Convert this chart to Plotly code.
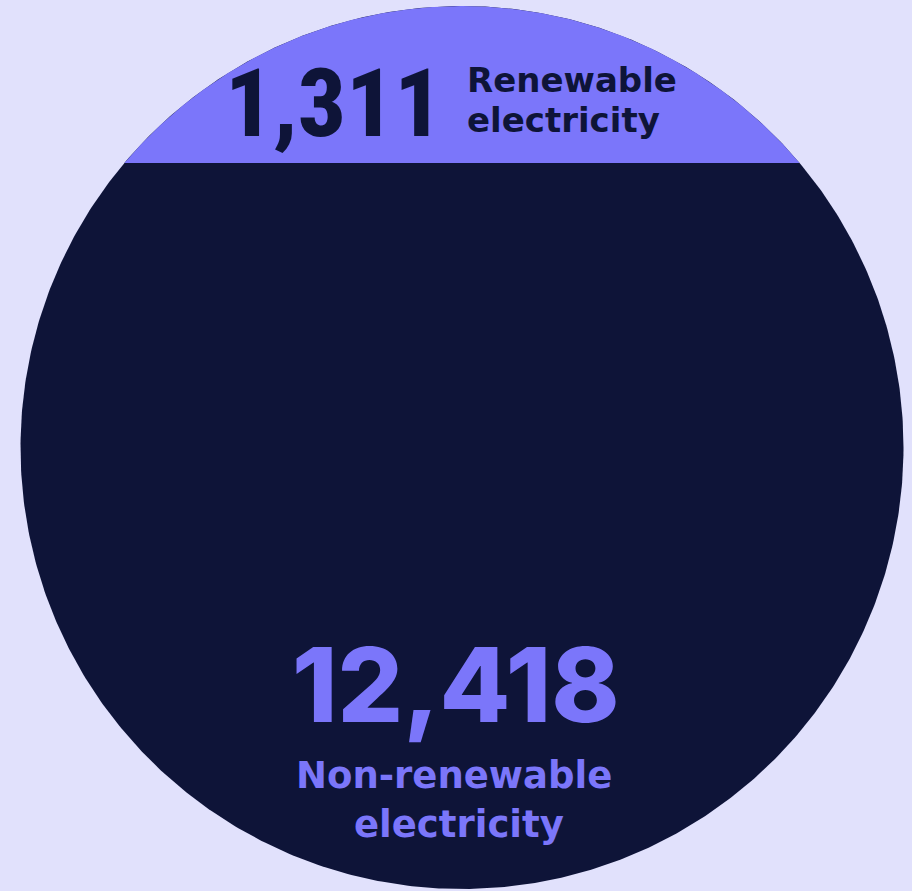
import numpy as np
import plotly.graph_objects as go

# ---- data ----
categories = ["Renewable electricity", "Non-renewable electricity"]
values = [1311, 12418]
value_labels = [f"{v:,}" for v in values]
label_lines = [c.split(" ") for c in categories]

# ---- style ----
BG = "#E1E1FC"
LIGHT = "#7B76FA"
DARK = "#0E1438"
W, H = 912, 891
CX, CY, R = 462.0, 447.5, 441.5        # circle centre / radius in pixels
BAND_LEVEL = 0.6444                     # top of dark fill, in radius units (design level)

# axes in radius units, centre at (0, 0)
x_range = [-CX / R, (W - CX) / R]
y_range = [-(H - CY) / R, CY / R]

t = np.linspace(0, 2 * np.pi, 721)
circle_x, circle_y = np.cos(t), np.sin(t)

a0 = np.arcsin(BAND_LEVEL)
ta = np.linspace(a0, np.pi - a0, 400)
seg_x = np.concatenate([np.cos(ta), [np.cos(a0)]])
seg_y = np.concatenate([np.sin(ta), [BAND_LEVEL]])

fig = go.Figure()
fig.add_trace(go.Scatter(x=circle_x, y=circle_y, mode="lines", fill="toself",
                         fillcolor=DARK, line=dict(width=0, color=DARK),
                         name=categories[1], hoverinfo="skip"))
fig.add_trace(go.Scatter(x=seg_x, y=seg_y, mode="lines", fill="toself",
                         fillcolor=LIGHT, line=dict(width=0, color=LIGHT),
                         name=categories[0], hoverinfo="skip"))


def px(x):
    return x / W


def py(y):
    return 1 - y / H


num_top_font = "Roboto Condensed, Liberation Sans Narrow, sans-serif"
num_bot_font = "Inter, Roboto, sans-serif"
label_font = "DejaVu Sans, Verdana, sans-serif"

annotations = [
    dict(text=value_labels[0], x=px(445), y=py(103), xanchor="right", yanchor="middle",
         font=dict(family=num_top_font, size=95, color=DARK, weight=800)),
    dict(text=label_lines[0][0], x=px(465), y=py(80), xanchor="left", yanchor="middle",
         font=dict(family=label_font, size=34, color=DARK, weight=700)),
    dict(text=label_lines[0][1], x=px(465), y=py(120), xanchor="left", yanchor="middle",
         font=dict(family=label_font, size=34, color=DARK, weight=700)),
    dict(text=value_labels[1], x=px(456), y=py(684), xanchor="center", yanchor="middle",
         font=dict(family=num_bot_font, size=103, color=LIGHT, weight=800)),
    dict(text=label_lines[1][0], x=px(454), y=py(775), xanchor="center", yanchor="middle",
         font=dict(family=label_font, size=37, color=LIGHT, weight=700)),
    dict(text=label_lines[1][1], x=px(459), y=py(824), xanchor="center", yanchor="middle",
         font=dict(family=label_font, size=37, color=LIGHT, weight=700)),
]
for a in annotations:
    a.update(xref="paper", yref="paper", showarrow=False)

fig.update_layout(
    width=W, height=H, margin=dict(l=0, r=0, t=0, b=0),
    paper_bgcolor=BG, plot_bgcolor=BG, showlegend=False,
    xaxis=dict(range=x_range, visible=False, fixedrange=True),
    yaxis=dict(range=y_range, visible=False, fixedrange=True),
    annotations=annotations,
)
fig.write_html("out.html", config={"displayModeBar": False},
               post_script="document.body.style.margin='0';document.body.style.background='%s';" % BG)
